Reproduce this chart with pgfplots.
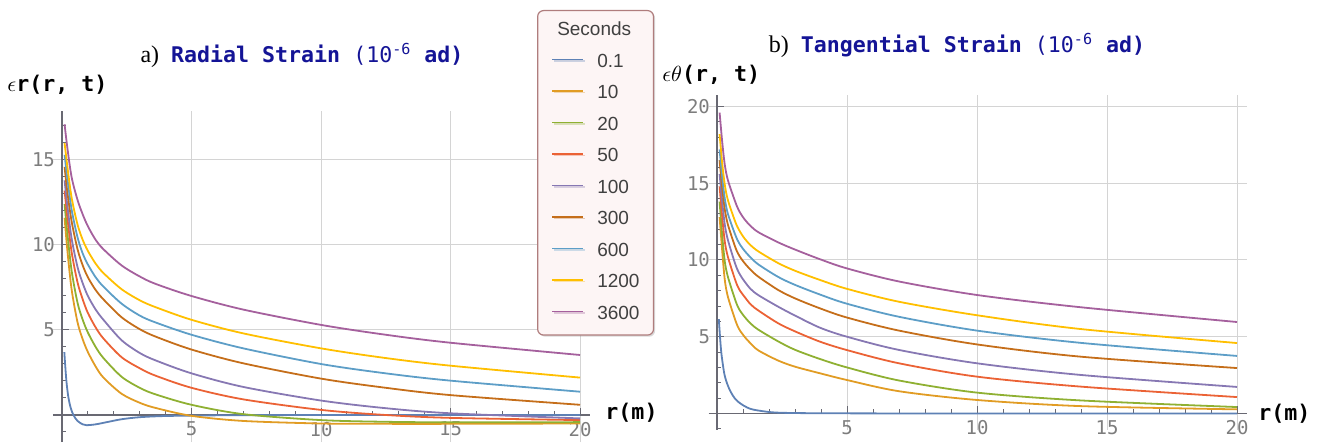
\documentclass[border=0pt]{standalone}
\usepackage{fontspec}
\setmainfont{Liberation Sans}
\newfontfamily\monof{DejaVu Sans Mono}
\newfontfamily\seriff{Liberation Serif}
\usepackage{pgfplots}
\pgfplotsset{compat=1.18}
\usepackage{pgfplotstable}
\usetikzlibrary{shadows}

% Mathematica default palette
\definecolor{c1}{rgb}{0.368417,0.506779,0.709798}
\definecolor{c2}{rgb}{0.880722,0.611041,0.142051}
\definecolor{c3}{rgb}{0.560181,0.691569,0.194885}
\definecolor{c4}{rgb}{0.922526,0.385626,0.209179}
\definecolor{c5}{rgb}{0.528488,0.470624,0.701351}
\definecolor{c6}{rgb}{0.772079,0.431554,0.102387}
\definecolor{c7}{rgb}{0.363898,0.618501,0.782349}
\definecolor{c8}{rgb}{1,0.75,0}
\definecolor{c9}{rgb}{0.647624,0.37816,0.614037}
\definecolor{ttl}{RGB}{20,20,150}
\definecolor{gridc}{RGB}{212,212,212}
\definecolor{axc}{RGB}{105,105,115}
\definecolor{tickc}{RGB}{125,125,125}

\pgfplotstableread{
x     orange green red   pb    brown lb    yellow purple
0.1   11.6   12.4  13.2  13.8  14.6  15.3  16.0   17.1
0.2   9.8    10.8  11.7  12.4  13.2  14.0  14.7   15.8
0.37  7.4    8.5   9.6   10.4  11.4  12.1  12.8   14.0
0.6   5.45   6.6   7.8   8.7   9.75  10.45 11.2   12.65
0.8   4.45   5.6   6.8   7.75  8.8   9.5   10.3   11.8
1.0   3.7    4.85  6.0   7.0   8.1   8.85  9.65   11.1
1.3   2.85   4.0   5.15  6.2   7.35  8.1   8.9    10.3
1.6   2.2    3.35  4.5   5.6   6.8   7.55  8.35   9.75
2.3   1.25   2.25  3.4   4.4   5.75  6.55  7.4    8.8
3.0   0.72   1.6   2.75  3.65  5.05  5.85  6.75   8.15
3.6   0.42   1.22  2.32  3.22  4.62  5.45  6.35   7.72
5     -0.05  0.6   1.6   2.45  3.85  4.72  5.6    7.0
7     -0.35  0.05  0.92  1.65  3.04  3.92  4.8    6.2
10    -0.5   -0.3  0.3   0.85  2.14  3.0   3.92   5.3
12.5  -0.52  -0.4  0.0   0.4   1.6   2.45  3.35   4.72
15    -0.52  -0.43 -0.17 0.1   1.17  2.02  2.9    4.25
20    -0.5   -0.42 -0.3  -0.2  0.6   1.37  2.2    3.53
}\radial

\pgfplotstableread{
x     orange green red   pb    brown lb    yellow purple
0.1   12.8   13.8  14.8  15.6  16.5  17.2  18.2   19.6
0.2   10.6   11.6  12.8  13.8  14.7  15.4  16.3   17.7
0.3   8.7    9.9   11.2  12.3  13.3  14.0  14.9   16.2
0.42  7.6    8.9   10.2  11.3  12.3  13.0  13.9   15.2
0.7   6.1    7.4   8.7   9.75  10.85 11.65 12.5   13.8
0.85  5.5    6.8   8.1   9.15  10.3  11.1  11.95  13.2
1.06  5.0    6.3   7.6   8.6   9.8   10.6  11.4   12.65
1.3   4.55   5.85  7.1   8.1   9.35  10.15 10.95  12.2
1.6   4.1    5.45  6.7   7.7   8.9   9.7   10.55  11.8
2.35  3.45   4.7   5.88  6.96  8.05  8.9   9.8    11.15
3.0   3.05   4.15  5.35  6.38  7.5   8.38  9.3    10.68
3.96  2.62   3.55  4.68  5.59  6.85  7.75  8.7    10.05
5     2.18   3.0   4.13  5.0   6.25  7.15  8.12   9.45
7     1.45   2.15  3.27  4.14  5.4   6.3   7.28   8.6
10    0.88   1.36  2.4   3.27  4.5   5.4   6.4    7.72
14    0.48   0.85  1.75  2.51  3.7   4.6   5.5    6.92
20    0.27   0.42  1.07  1.73  2.96  3.75  4.59   5.96
}\tangential

\pgfplotsset{
  mma/.style={
    scale only axis,
    anchor=origin,
    axis lines=middle,
    axis line style={axc, line width=0.6pt, -},
    tick align=inside,
    major tick length=3.5pt,
    minor tick length=2pt,
    tick style={axc, line width=0.5pt},
    xmajorgrids, ymajorgrids,
    grid style={gridc, line width=0.5pt},
    tick label style={font=\monof\fontsize{9.5}{10}\selectfont, text=tickc},
    /pgf/number format/assume math mode=true,
    every axis plot/.append style={line width=0.9pt, smooth, no markers},
  },
}

\begin{document}
\begin{tikzpicture}
\useasboundingbox (0,0) rectangle (662pt,222pt);

\begin{axis}[mma,
  at={(31pt,14.5pt)}, x=12.95pt, y=8.5pt,
  xmin=-0.35, xmax=20.4, ymin=-1.6, ymax=17.9,
  xtick={5,10,15,20}, ytick={5,10,15},
  minor xtick={1,2,3,4,6,7,8,9,11,12,13,14,16,17,18,19},
  minor ytick={-1,1,2,3,4,6,7,8,9,11,12,13,14,16,17},
  title={{\seriff\fontsize{12}{12}\selectfont a)}\hspace{6pt}{\color{ttl}\monof\fontsize{10.8}{11}\selectfont\bfseries Radial Strain \mdseries(10\textsuperscript{-6} \bfseries ad)}},
  every axis title/.style={at={(axis description cs:0.4635,1.168)}, anchor=center, inner sep=0pt},
  ylabel={\fontsize{10.8}{11}\selectfont$\epsilon$\monof\bfseries r(r, t)},
  every axis y label/.style={at={(axis description cs:-0.0854,1.0775)}, anchor=west, inner sep=0pt},
  xlabel={\monof\fontsize{10.8}{11}\selectfont\bfseries r(m)},
  every axis x label/.style={at={(axis description cs:1.0274,0.088)}, anchor=west, inner sep=0pt},
  legend cell align=left,
  legend image code/.code={\draw[#1, line width=0.8pt] (0pt,1.6pt) -- (15.5pt,1.6pt);},
  legend style={at={(axis description cs:0.9008,1.3038)}, anchor=north west,
    draw={rgb,255:red,175;green,125;blue,125}, fill={rgb,255:red,253;green,245;blue,245},
    rounded corners=3pt, line width=0.6pt,
    drop shadow={opacity=0.3, shadow xshift=0.8pt, shadow yshift=-0.8pt},
    inner xsep=7pt, inner ysep=5.5pt, row sep=6.25pt,
    font=\fontsize{9.5}{10}\selectfont, text=black!75,
    nodes={inner sep=0pt, text height=7pt, text depth=2.5pt},
    /tikz/every odd column/.append style={column sep=6.5pt}},
]
\addlegendimage{empty legend}
\addlegendentry{\hspace*{-20pt}Seconds}
\addplot[c1] coordinates {(0.09,3.7) (0.12,3.0) (0.17,2.0) (0.24,1.1) (0.33,0.45) (0.44,0.0) (0.6,-0.35) (0.8,-0.55) (0.95,-0.6) (1.3,-0.55) (1.7,-0.43) (2.3,-0.25) (3,-0.13) (4,-0.06) (6,-0.02) (10,0) (20,0)};
\addlegendentry{0.1}
\addplot[c2] table[x=x, y=orange] {\radial};
\addlegendentry{10}
\addplot[c3] table[x=x, y=green] {\radial};
\addlegendentry{20}
\addplot[c4] table[x=x, y=red] {\radial};
\addlegendentry{50}
\addplot[c5] table[x=x, y=pb] {\radial};
\addlegendentry{100}
\addplot[c6] table[x=x, y=brown] {\radial};
\addlegendentry{300}
\addplot[c7] table[x=x, y=lb] {\radial};
\addlegendentry{600}
\addplot[c8] table[x=x, y=yellow] {\radial};
\addlegendentry{1200}
\addplot[c9] table[x=x, y=purple] {\radial};
\addlegendentry{3600}
\end{axis}

\begin{axis}[mma,
  at={(358.5pt,15.25pt)}, x=13pt, y=7.675pt,
  xmin=-0.32, xmax=20.4, ymin=-1.07, ymax=20.75,
  xtick={5,10,15,20}, ytick={5,10,15,20},
  minor xtick={1,2,3,4,6,7,8,9,11,12,13,14,16,17,18,19},
  minor ytick={-1,1,2,3,4,6,7,8,9,11,12,13,14,16,17,18,19},
  title={{\seriff\fontsize{12}{12}\selectfont b)}\hspace{6pt}{\color{ttl}\monof\fontsize{10.8}{11}\selectfont\bfseries Tangential Strain \mdseries(10\textsuperscript{-6} \bfseries ad)}},
  every axis title/.style={at={(axis description cs:0.461,1.149)}, anchor=center, inner sep=0pt},
  ylabel={\fontsize{10.8}{11}\selectfont$\epsilon\theta$\monof\bfseries(r, t)},
  every axis y label/.style={at={(axis description cs:-0.0867,1.0597)}, anchor=west, inner sep=0pt},
  xlabel={\monof\fontsize{10.8}{11}\selectfont\bfseries r(m)},
  every axis x label/.style={at={(axis description cs:1.0197,0.047)}, anchor=west, inner sep=0pt},
]
\addplot[c1] coordinates {(0.07,6.15) (0.12,4.9) (0.17,3.9) (0.28,2.6) (0.4,1.9) (0.53,1.4) (0.7,0.95) (0.9,0.65) (1.15,0.4) (1.4,0.25) (2.1,0.08) (3,0.03) (5,0.01) (10,0) (20,0)};
\addplot[c2] table[x=x, y=orange] {\tangential};
\addplot[c3] table[x=x, y=green] {\tangential};
\addplot[c4] table[x=x, y=red] {\tangential};
\addplot[c5] table[x=x, y=pb] {\tangential};
\addplot[c6] table[x=x, y=brown] {\tangential};
\addplot[c7] table[x=x, y=lb] {\tangential};
\addplot[c8] table[x=x, y=yellow] {\tangential};
\addplot[c9] table[x=x, y=purple] {\tangential};
\end{axis}
\end{tikzpicture}
\end{document}
